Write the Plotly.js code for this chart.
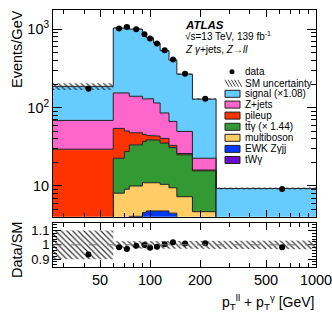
<!DOCTYPE html>
<html><head><meta charset="utf-8">
<script src="https://cdn.plot.ly/plotly-3.0.1.min.js"></script>
<style>html,body{margin:0;padding:0;background:#fff}#chart{width:332px;height:319px}</style>
</head><body><div id="chart"></div>
<script>
// ---- data ----
const binEdges   = [25, 60, 70, 75, 90, 95, 105, 115, 130, 145, 180, 250, 1000];
const dataValues = [174, 1020, 1070, 1000, 863, 760, 656, 538, 412, 270, 130, 9.15];
const signal     = [118, 883, 948, 867, 735, 646, 550, 450, 338, 218, 106, 5.9];
const zjets      = [39.2, 99.7, 103.6, 91.9, 83.5, 85.8, 71.5, 45, 33.7, 23.7, 6.6, 0.8];
const pileup     = [26.2, 31.7, 22.9, 14.3, 8.5, 5.3, 4.8, 5.2, 2.0, 1.0, 0.4, 0.1];
const ttgamma    = [1.5, 14.5, 18.4, 23.5, 26, 27.7, 27.5, 24.8, 21.5, 17.7, 10.9, 0.5];
const multiboson = [1.4, 5.1, 5.4, 5.9, 6.4, 6.4, 6.2, 5.7, 5.0, 3.7, 2.1, 0.8];
const ewk        = [0.35, 2.9, 3.6, 3.95, 4.45, 4.65, 4.65, 4.65, 4.35, 3.5, 2.5, 1.15];
const twgamma    = [0.05, 0.1, 0.1, 0.15, 0.15, 0.15, 0.15, 0.15, 0.15, 0.1, 0.1, 0.05];
const relUnc     = [0.10, 0.025, 0.025, 0.025, 0.025, 0.025, 0.025, 0.025, 0.025, 0.025, 0.025, 0.03];
const xTickVals  = [50, 100, 200, 500, 1000];
const xTickText  = ['50', '100', '200', '500', '1000'];
const yTickVals  = [10, 100, 1000];
const yTickText  = ['10', '10<sup>2</sup>', '10<sup>3</sup>'];
const rTickVals  = [0.9, 1, 1.1];
const rTickText  = ['0.9', '1', '1.1'];

// ---- styling ----
const fam = 'Liberation Sans, Arial, Helvetica, sans-serif';
const components = [
  {label: 'tWγ',            vals: twgamma,    color: '#6a0dcc'},
  {label: 'EWK Zγjj',       vals: ewk,        color: '#0038ff'},
  {label: 'multiboson',     vals: multiboson, color: '#ffcc66'},
  {label: 'tt\u0304γ (× 1.44)', vals: ttgamma, color: '#339933'},
  {label: 'pileup',         vals: pileup,     color: '#ff3300'},
  {label: 'Z+jets',         vals: zjets,      color: '#ff66cc'},
  {label: 'signal (×1.08)', vals: signal,     color: '#66ccff'}
];

function stepXY(vals) {
  const x = [], y = [];
  vals.forEach((v, i) => { x.push(binEdges[i], binEdges[i + 1]); y.push(v, v); });
  return {x, y};
}
function bandXY(lo, hi) {
  const u = stepXY(hi), l = stepXY(lo);
  return {x: u.x.concat(l.x.slice().reverse()), y: u.y.concat(l.y.slice().reverse())};
}
const centers = binEdges.slice(0, -1).map((e, i) => (e + binEdges[i + 1]) / 2);

const traces = [];
traces.push({x: [binEdges[0], binEdges[binEdges.length - 1]], y: [0.01, 0.01], mode: 'lines',
  line: {width: 0}, xaxis: 'x', yaxis: 'y', hoverinfo: 'skip', showlegend: false});
let cum = new Array(dataValues.length).fill(0);
components.forEach(c => {
  cum = cum.map((v, i) => v + c.vals[i]);
  const s = stepXY(cum);
  traces.push({x: s.x, y: s.y, mode: 'lines', line: {color: '#222', width: 1},
    fill: 'tonexty', fillcolor: c.color, xaxis: 'x', yaxis: 'y', hoverinfo: 'skip', showlegend: false});
});
const total = cum.slice();
const hatch = {shape: '\\', size: 4, solidity: 0.3, fgcolor: '#333', bgcolor: 'rgba(0,0,0,0)', fgopacity: 1};
const mb = bandXY(total.map((t, i) => t * (1 - relUnc[i])), total.map((t, i) => t * (1 + relUnc[i])));
traces.push({x: mb.x, y: mb.y, mode: 'lines', line: {width: 0}, fill: 'toself',
  fillcolor: 'rgba(0,0,0,0)', fillpattern: hatch, xaxis: 'x', yaxis: 'y', hoverinfo: 'skip', showlegend: false});
traces.push({x: centers, y: dataValues, mode: 'markers', marker: {color: 'black', size: 6},
  xaxis: 'x', yaxis: 'y', hoverinfo: 'skip', showlegend: false});

const rb = bandXY(relUnc.map(u => 1 - u), relUnc.map(u => 1 + u));
traces.push({x: rb.x, y: rb.y, mode: 'lines', line: {width: 0}, fill: 'toself',
  fillcolor: 'rgba(0,0,0,0)', fillpattern: hatch, xaxis: 'x2', yaxis: 'y2', hoverinfo: 'skip', showlegend: false});
traces.push({x: centers, y: dataValues.map((d, i) => d / total[i]), mode: 'markers',
  marker: {color: 'black', size: 6}, xaxis: 'x2', yaxis: 'y2', hoverinfo: 'skip', showlegend: false});

// ---- layout helpers (pixel -> paper) ----
const L = 53, R = 316, T = 10, B = 267;
const fx = px => (px - L) / (R - L);
const fy = py => (B - py) / (B - T);

const axCommon = {showline: true, linecolor: 'black', linewidth: 1, mirror: 'allticks',
  ticks: 'inside', tickcolor: 'black', showgrid: false, zeroline: false, tickmode: 'array',
  ticklabeloverflow: 'allow', tickfont: {family: fam, size: 14.5, color: 'black'}};
const xMinor = {ticks: 'inside', ticklen: 4, tickcolor: 'black',
  tickvals: [30, 40, 60, 70, 80, 90, 300, 400, 600, 700, 800, 900], showgrid: false};

const annotations = [
  {text: '<b><i>ATLAS</i></b>', x: fx(183), y: fy(25), xanchor: 'left', yanchor: 'middle', font: {size: 11.5}},
  {text: '√s=13 TeV, 139 fb<sup>-1</sup>', x: fx(183), y: fy(35.5), xanchor: 'left', yanchor: 'middle', font: {size: 10}},
  {text: '<i>Z γ</i>+jets, <i>Z</i>→<i>ll</i>', x: fx(183), y: fy(49.5), xanchor: 'left', yanchor: 'middle', font: {size: 10}},
  {text: 'Events/GeV', textangle: -90, x: fx(17), y: fy(49), xanchor: 'center', yanchor: 'middle', font: {size: 14.5}},
  {text: 'Data/SM', textangle: -90, x: fx(17), y: fy(250), xanchor: 'center', yanchor: 'middle', font: {size: 14.5}},
  {text: 'p<sub>T</sub><sup>ll</sup> + p<sub>T</sub><sup>γ</sup> [GeV]', x: 1, y: fy(302), xanchor: 'right', yanchor: 'middle', font: {size: 14}}
];
const shapes = [
  {type: 'line', xref: 'x2 domain', yref: 'y2', x0: 0, x1: 1, y0: 1, y1: 1, line: {color: '#777', width: 1, dash: 'dash'}}
];
// legend (drawn manually for ROOT-like compact spacing)
const rows = [71.7, 83.3, 93.8, 104.6, 115.6, 126.8, 137.8, 148.9, 160];
const legendLabels = ['data', 'SM uncertainty'].concat(components.slice().reverse().map(c => c.label));
legendLabels.forEach((t, k) => {
  annotations.push({text: t, x: fx(243), y: fy(rows[k]), xanchor: 'left', yanchor: 'middle', font: {size: 10}});
});
shapes.push({type: 'circle', xref: 'paper', yref: 'paper', x0: fx(229.5), x1: fx(234.5), y0: fy(74.2), y1: fy(69.2),
  fillcolor: 'black', line: {width: 0}});
for (let k = 0; k < 5; k++) {
  const x0 = 225 + k * 3.2;
  shapes.push({type: 'line', xref: 'paper', yref: 'paper', x0: fx(x0), x1: fx(x0 + 4), y0: fy(rows[1] - 3.5), y1: fy(rows[1] + 3.5),
    line: {color: '#444', width: 1}});
}
components.slice().reverse().forEach((c, k) => {
  const yc = rows[k + 2];
  shapes.push({type: 'rect', xref: 'paper', yref: 'paper', x0: fx(225), x1: fx(240), y0: fy(yc + 3.5), y1: fy(yc - 3.5),
    fillcolor: c.color, line: {color: '#222', width: 1}});
});

const layout = {
  width: 332, height: 319, margin: {l: L, r: 332 - R, t: T, b: 319 - B},
  paper_bgcolor: 'white', plot_bgcolor: 'white', showlegend: false,
  font: {family: fam, color: 'black'},
  xaxis: Object.assign({}, axCommon, {type: 'log', range: [Math.log10(26), 3], anchor: 'y', domain: [0, 1],
    tickvals: xTickVals, ticktext: xTickText, ticklen: 7, showticklabels: false, minor: xMinor}),
  xaxis2: Object.assign({}, axCommon, {type: 'log', range: [Math.log10(26), 3], anchor: 'y2', domain: [0, 1],
    tickvals: xTickVals, ticktext: xTickText, ticklen: 7, minor: xMinor}),
  yaxis: Object.assign({}, axCommon, {type: 'log', range: [0.608, 3.246], domain: [0.1957, 1], anchor: 'x',
    tickvals: yTickVals, ticktext: yTickText, ticklen: 9,
    minor: {ticks: 'inside', ticklen: 5, tickcolor: 'black', showgrid: false,
      tickvals: [5, 6, 7, 8, 9, 20, 30, 40, 50, 60, 70, 80, 90, 200, 300, 400, 500, 600, 700, 800, 900]}}),
  yaxis2: Object.assign({}, axCommon, {range: [0.845, 1.155], domain: [0, 0.1724], anchor: 'x2',
    tickvals: rTickVals, ticktext: rTickText, ticklen: 8, tickfont: {family: fam, size: 13, color: 'black'},
    minor: {ticks: 'inside', ticklen: 4, tickcolor: 'black', dtick: 0.02, showgrid: false}}),
  annotations: annotations.map(a => Object.assign({showarrow: false, xref: 'paper', yref: 'paper'}, a,
    {font: Object.assign({family: fam, color: 'black'}, a.font)})),
  shapes: shapes
};
Plotly.newPlot('chart', traces, layout, {staticPlot: true, displayModeBar: false});
</script></body></html>
